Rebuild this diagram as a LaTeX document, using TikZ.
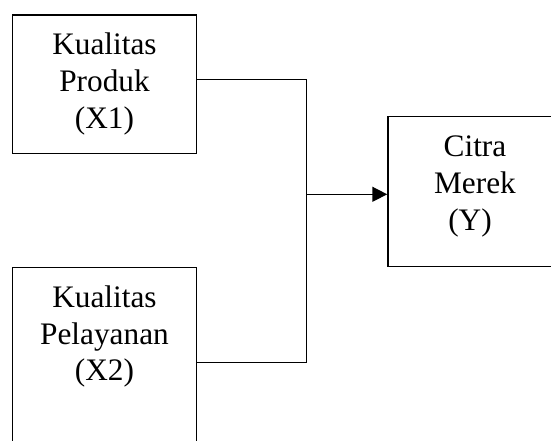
\documentclass[tikz,border=0pt]{standalone}
\usepackage{fontspec}
\setmainfont{Liberation Serif}
\usetikzlibrary{arrows.meta}
\tikzset{
  box/.style={draw=black, line width=1.5pt, rectangle, inner sep=0pt},
  lbl/.style={inner sep=0pt, anchor=base},
  conn/.style={draw=black, line width=1.5pt},
}
\newcommand{\lines}[1]{\parbox[t]{170pt}{\centering\fontsize{31.3}{36.7}\selectfont #1}}
\begin{document}
\begin{tikzpicture}[x=1pt,y=-1pt]
\useasboundingbox (0,0) rectangle (551,441);
\clip (0,0) rectangle (551,441);
\node[box, minimum width=184.4pt, minimum height=138.7pt] (x1) at (104.5,84.35) {};
\node[box, minimum width=184.4pt, minimum height=189.2pt] (x2) at (104.5,362.3) {};
\node[box, minimum width=174pt, minimum height=150pt] (y) at (475,191.7) {};
\node[lbl] (x1t) at (104.5,55) {\lines{Kualitas\\Produk\\(X1)}};
\node[lbl] (x2t) at (104.5,307.3) {\lines{Kualitas\\Pelayanan\\(X2)}};
\node[lbl] (yt) at (475,156.7) {\lines{Citra\\Merek\\\hspace*{-10pt}(Y)}};
\coordinate (j) at (306.7,194.3);
\draw[conn] ([yshift=5pt]x1.east) -| (j) |- (x2.east);
\draw[conn, -{Triangle[length=15pt,width=15pt]}] (j) -- ([yshift=-2.6pt]y.west);
\end{tikzpicture}
\end{document}
